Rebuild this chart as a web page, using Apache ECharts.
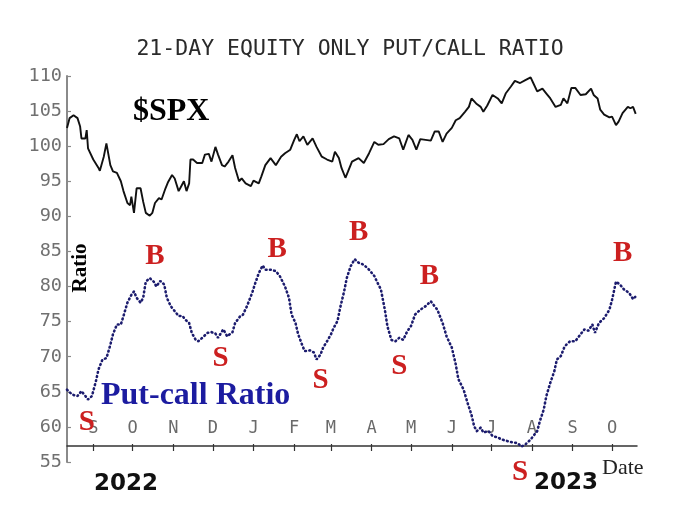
<!DOCTYPE html>
<html><head><meta charset="utf-8">
<script src="https://cdn.jsdelivr.net/npm/echarts@6/dist/echarts.min.js"></script>
<style>html,body{margin:0;padding:0;background:#fff}#c{width:700px;height:528px}</style>
</head><body><div id="c"></div>
<script>
const spxDates = ['2022-08-12','2022-08-14','2022-08-17','2022-08-20','2022-08-22','2022-08-23','2022-08-26','2022-08-27','2022-08-28','2022-09-01','2022-09-05','2022-09-06','2022-09-09','2022-09-11','2022-09-14','2022-09-16','2022-09-19','2022-09-22','2022-09-24','2022-09-27','2022-09-29','2022-09-30','2022-10-02','2022-10-04','2022-10-07','2022-10-09','2022-10-11','2022-10-14','2022-10-16','2022-10-18','2022-10-21','2022-10-23','2022-10-26','2022-10-28','2022-10-31','2022-11-02','2022-11-05','2022-11-07','2022-11-09','2022-11-11','2022-11-13','2022-11-14','2022-11-16','2022-11-19','2022-11-23','2022-11-25','2022-11-28','2022-11-30','2022-12-03','2022-12-05','2022-12-08','2022-12-10','2022-12-13','2022-12-16','2022-12-18','2022-12-21','2022-12-23','2022-12-26','2022-12-30','2023-01-01','2023-01-05','2023-01-07','2023-01-10','2023-01-14','2023-01-18','2023-01-22','2023-01-25','2023-01-29','2023-02-01','2023-02-03','2023-02-05','2023-02-08','2023-02-11','2023-02-15','2023-02-18','2023-02-22','2023-02-26','2023-03-02','2023-03-04','2023-03-07','2023-03-09','2023-03-12','2023-03-14','2023-03-17','2023-03-22','2023-03-26','2023-03-30','2023-04-03','2023-04-06','2023-04-10','2023-04-14','2023-04-18','2023-04-22','2023-04-25','2023-04-29','2023-05-02','2023-05-05','2023-05-08','2023-05-12','2023-05-16','2023-05-19','2023-05-22','2023-05-25','2023-05-28','2023-06-01','2023-06-04','2023-06-07','2023-06-11','2023-06-14','2023-06-16','2023-06-20','2023-06-23','2023-06-25','2023-06-28','2023-07-02','2023-07-06','2023-07-09','2023-07-12','2023-07-16','2023-07-19','2023-07-23','2023-07-27','2023-07-31','2023-08-02','2023-08-05','2023-08-09','2023-08-12','2023-08-15','2023-08-19','2023-08-23','2023-08-25','2023-08-28','2023-08-31','2023-09-03','2023-09-07','2023-09-11','2023-09-15','2023-09-17','2023-09-20','2023-09-22','2023-09-25','2023-09-29','2023-10-01','2023-10-04','2023-10-06','2023-10-09','2023-10-13','2023-10-15','2023-10-17','2023-10-19'];
const spxValues = [102.6,104.0,104.4,104.0,102.8,101.1,101.1,102.3,99.7,98.1,96.9,96.5,98.5,100.4,97.3,96.4,96.2,95.0,93.6,91.9,91.6,92.8,90.5,94.0,94.0,92.1,90.5,90.1,90.5,91.9,92.6,92.4,94.0,94.9,95.9,95.4,93.6,94.3,95.0,93.6,94.7,98.1,98.1,97.6,97.6,98.8,98.9,97.8,99.9,98.8,97.3,97.1,97.8,98.7,96.9,95.0,95.4,94.7,94.3,95.1,94.7,95.7,97.3,98.3,97.3,98.5,99.0,99.5,100.9,101.7,100.7,101.4,100.2,101.1,99.9,98.5,98.1,97.8,99.2,98.3,96.9,95.5,96.4,97.8,98.3,97.6,99.0,100.6,100.2,100.3,101.0,101.4,101.1,99.5,101.6,100.9,99.5,101.0,100.9,100.8,102.1,102.1,100.6,101.8,102.6,103.7,104.0,104.9,105.6,106.8,106.0,105.6,104.9,105.8,107.3,106.8,106.1,107.5,108.5,109.3,109.0,109.4,109.8,109.0,107.8,108.2,107.5,106.8,105.6,105.9,106.8,106.1,108.3,108.3,107.3,107.4,108.2,107.3,106.8,105.2,104.5,104.1,104.2,103.0,103.5,104.7,105.6,105.4,105.6,104.6];

const ratioDates = ['2022-08-12','2022-08-16','2022-08-20','2022-08-23','2022-08-26','2022-08-28','2022-08-31','2022-09-03','2022-09-05','2022-09-08','2022-09-11','2022-09-14','2022-09-16','2022-09-19','2022-09-22','2022-09-24','2022-09-27','2022-09-30','2022-10-02','2022-10-04','2022-10-07','2022-10-09','2022-10-11','2022-10-14','2022-10-17','2022-10-19','2022-10-22','2022-10-25','2022-10-27','2022-10-30','2022-11-02','2022-11-05','2022-11-08','2022-11-10','2022-11-13','2022-11-15','2022-11-18','2022-11-20','2022-11-23','2022-11-27','2022-11-30','2022-12-03','2022-12-05','2022-12-09','2022-12-12','2022-12-16','2022-12-18','2022-12-22','2022-12-24','2022-12-27','2022-12-31','2023-01-02','2023-01-05','2023-01-08','2023-01-10','2023-01-14','2023-01-18','2023-01-21','2023-01-25','2023-01-28','2023-01-30','2023-02-02','2023-02-04','2023-02-07','2023-02-09','2023-02-13','2023-02-16','2023-02-18','2023-02-21','2023-02-23','2023-02-26','2023-03-01','2023-03-03','2023-03-06','2023-03-08','2023-03-11','2023-03-13','2023-03-16','2023-03-19','2023-03-22','2023-03-26','2023-03-30','2023-04-03','2023-04-05','2023-04-08','2023-04-11','2023-04-13','2023-04-16','2023-04-19','2023-04-22','2023-04-25','2023-04-28','2023-05-01','2023-05-04','2023-05-08','2023-05-12','2023-05-16','2023-05-18','2023-05-21','2023-05-25','2023-05-28','2023-06-01','2023-06-04','2023-06-06','2023-06-10','2023-06-13','2023-06-16','2023-06-18','2023-06-20','2023-06-23','2023-06-25','2023-06-29','2023-07-02','2023-07-06','2023-07-09','2023-07-13','2023-07-17','2023-07-21','2023-07-24','2023-07-27','2023-07-31','2023-08-02','2023-08-05','2023-08-07','2023-08-10','2023-08-12','2023-08-15','2023-08-18','2023-08-20','2023-08-23','2023-08-26','2023-08-30','2023-09-03','2023-09-07','2023-09-10','2023-09-13','2023-09-16','2023-09-18','2023-09-21','2023-09-25','2023-09-29','2023-10-01','2023-10-04','2023-10-07','2023-10-10','2023-10-14','2023-10-17','2023-10-20'];
const ratioValues = [65.3,64.6,64.4,65.1,64.4,63.9,64.4,66.5,68.2,69.6,69.8,71.7,73.2,74.6,74.6,75.8,77.7,78.8,79.3,78.4,77.7,78.4,80.7,81.2,80.7,80.0,80.8,80.3,78.4,77.2,76.5,75.8,75.8,75.3,74.8,73.4,72.4,72.2,72.7,73.4,73.5,73.3,72.7,73.9,72.9,73.5,74.8,75.8,76.0,77.2,79.1,80.3,81.9,83.0,82.4,82.4,82.2,81.5,80.0,78.4,76.0,74.8,73.2,71.7,70.8,70.9,70.6,69.6,70.3,71.3,72.2,73.2,74.1,75.1,77.0,79.3,81.2,82.9,83.9,83.4,83.1,82.4,81.5,80.7,79.6,76.7,74.3,72.4,72.2,72.7,72.4,73.6,74.4,76.0,76.7,77.2,77.9,77.4,76.7,74.8,72.9,71.3,68.9,66.8,65.3,63.4,61.7,60.1,59.4,59.9,59.2,59.4,58.7,58.5,58.2,58.0,57.8,57.7,57.2,57.5,58.2,58.7,59.4,60.8,62.5,64.4,66.3,67.9,69.6,70.1,71.5,72.2,72.2,73.2,73.9,73.7,74.6,73.4,74.8,75.5,76.7,78.1,80.7,80.3,79.6,79.1,78.2,78.8];

const monthTicks = ['2022-09-01','2022-10-01','2022-11-01','2022-12-01','2023-01-01','2023-02-01','2023-03-01','2023-04-01','2023-05-01','2023-06-01','2023-07-01','2023-08-01','2023-09-01','2023-10-01'];
const monthLabels = ['S','O','N','D','J','F','M','A','M','J','J','A','S','O'];

const signalDates = ['2022-08-27','2022-10-18','2022-12-07','2023-01-19','2023-02-21','2023-03-22','2023-04-22','2023-05-15','2023-07-23','2023-10-09'];
const signalValues = [60.6,84.25,69.7,85.25,66.6,87.7,68.6,81.5,55.2,84.7];
const signalTexts = ['S','B','S','B','S','B','S','B','S','B'];

const ts = d => Date.parse(d + 'T00:00:00');
const tickTs = monthTicks.map(ts);
const xMin = ts('2022-08-12'), xMax = ts('2023-10-20');

const chart = echarts.init(document.getElementById('c'), null, {renderer: 'canvas'});
const monoFont = 'DejaVu Sans Mono';
const serif = 'Liberation Serif';

function monthFmt(v) {
  for (let i = 0; i < tickTs.length; i++) if (Math.abs(tickTs[i] - v) < 43200000) return monthLabels[i];
  return '';
}

const xBase = {
  type: 'value', min: xMin, max: xMax, position: 'bottom', offset: -16, scale: true,
  splitLine: {show: false}
};

chart.setOption({
  animation: false,
  backgroundColor: '#fff',
  title: {
    text: '21-DAY EQUITY ONLY PUT/CALL RATIO', left: 'center', top: 33,
    textStyle: {fontFamily: monoFont, fontSize: 21.5, fontWeight: 'normal', color: '#2a2a2a'}
  },
  grid: {left: 67, right: 63, top: 76, bottom: 66},
  xAxis: [
    Object.assign({}, xBase, {
      axisLine: {show: true, lineStyle: {color: '#333', width: 1.5}},
      axisTick: {show: true, inside: false, length: 5, lineStyle: {color: '#333', width: 1.2}, customValues: tickTs},
      axisLabel: {
        show: true, inside: true, margin: 9, customValues: tickTs,
        fontFamily: monoFont, fontSize: 17, color: '#6a6a6a', formatter: monthFmt
      }
    }),
    Object.assign({}, xBase, {
      axisLine: {show: false},
      axisTick: {show: true, inside: true, length: 2, lineStyle: {color: '#333', width: 1.2}, customValues: tickTs},
      axisLabel: {show: false}
    })
  ],
  yAxis: {
    type: 'value', min: 55, max: 110, interval: 5,
    splitLine: {show: false},
    axisLine: {show: true, lineStyle: {color: '#8a8a8a', width: 2}},
    axisTick: {show: true, inside: true, length: 4, lineStyle: {color: '#8a8a8a', width: 1.2}},
    axisLabel: {margin: 5, fontFamily: monoFont, fontSize: 18.5, color: '#707070'}
  },
  series: [
    {
      name: '$SPX', type: 'line', xAxisIndex: 0, showSymbol: false, symbol: 'none',
      data: spxDates.map((d, i) => [ts(d), spxValues[i]]),
      lineStyle: {color: '#111', width: 1.9}, z: 3
    },
    {
      name: 'Put-call Ratio', type: 'line', xAxisIndex: 0, showSymbol: false, symbol: 'none',
      data: ratioDates.map((d, i) => [ts(d), ratioValues[i]]),
      lineStyle: {color: '#1c1c6e', width: 2.6, type: [0.8, 3.4], cap: 'round'}, z: 3,
      markPoint: {
        symbol: 'circle', symbolSize: 1, itemStyle: {color: 'rgba(0,0,0,0)'},
        label: {show: true, position: 'inside', formatter: '{b}', fontFamily: serif, fontWeight: 'bold', fontSize: 29, color: '#cc2020'},
        data: signalDates.map((d, i) => {
          const item = {name: signalTexts[i], coord: [ts(d), signalValues[i]]};
          if (i === 8) item.label = {offset: [0, 12]};
          return item;
        })
      }
    }
  ],
  graphic: [
    {type: 'text', x: 133, y: 112, z: 10, style: {text: '$SPX', font: 'bold 32px "Liberation Serif"', fill: '#000', align: 'left', verticalAlign: 'middle'}},
    {type: 'text', x: 101, y: 396, z: 10, style: {text: 'Put-call Ratio', font: 'bold 32px "Liberation Serif"', fill: '#1c1ca0', align: 'left', verticalAlign: 'middle'}},
    {type: 'text', x: 80.5, y: 268, rotation: Math.PI / 2, z: 10, style: {text: 'Ratio', font: 'bold 21px "Liberation Serif"', fill: '#000', align: 'center', verticalAlign: 'middle'}},
    {type: 'text', x: 126, y: 484, z: 10, style: {text: '2022', font: 'bold 23px "DejaVu Sans"', fill: '#111', align: 'center', verticalAlign: 'middle'}},
    {type: 'text', x: 566, y: 483, z: 10, style: {text: '2023', font: 'bold 23px "DejaVu Sans"', fill: '#111', align: 'center', verticalAlign: 'middle'}},
    {type: 'text', x: 602, y: 468, z: 10, style: {text: 'Date', font: '22px "Liberation Serif"', fill: '#222', align: 'left', verticalAlign: 'middle'}}
  ]
});
</script>
</body></html>
